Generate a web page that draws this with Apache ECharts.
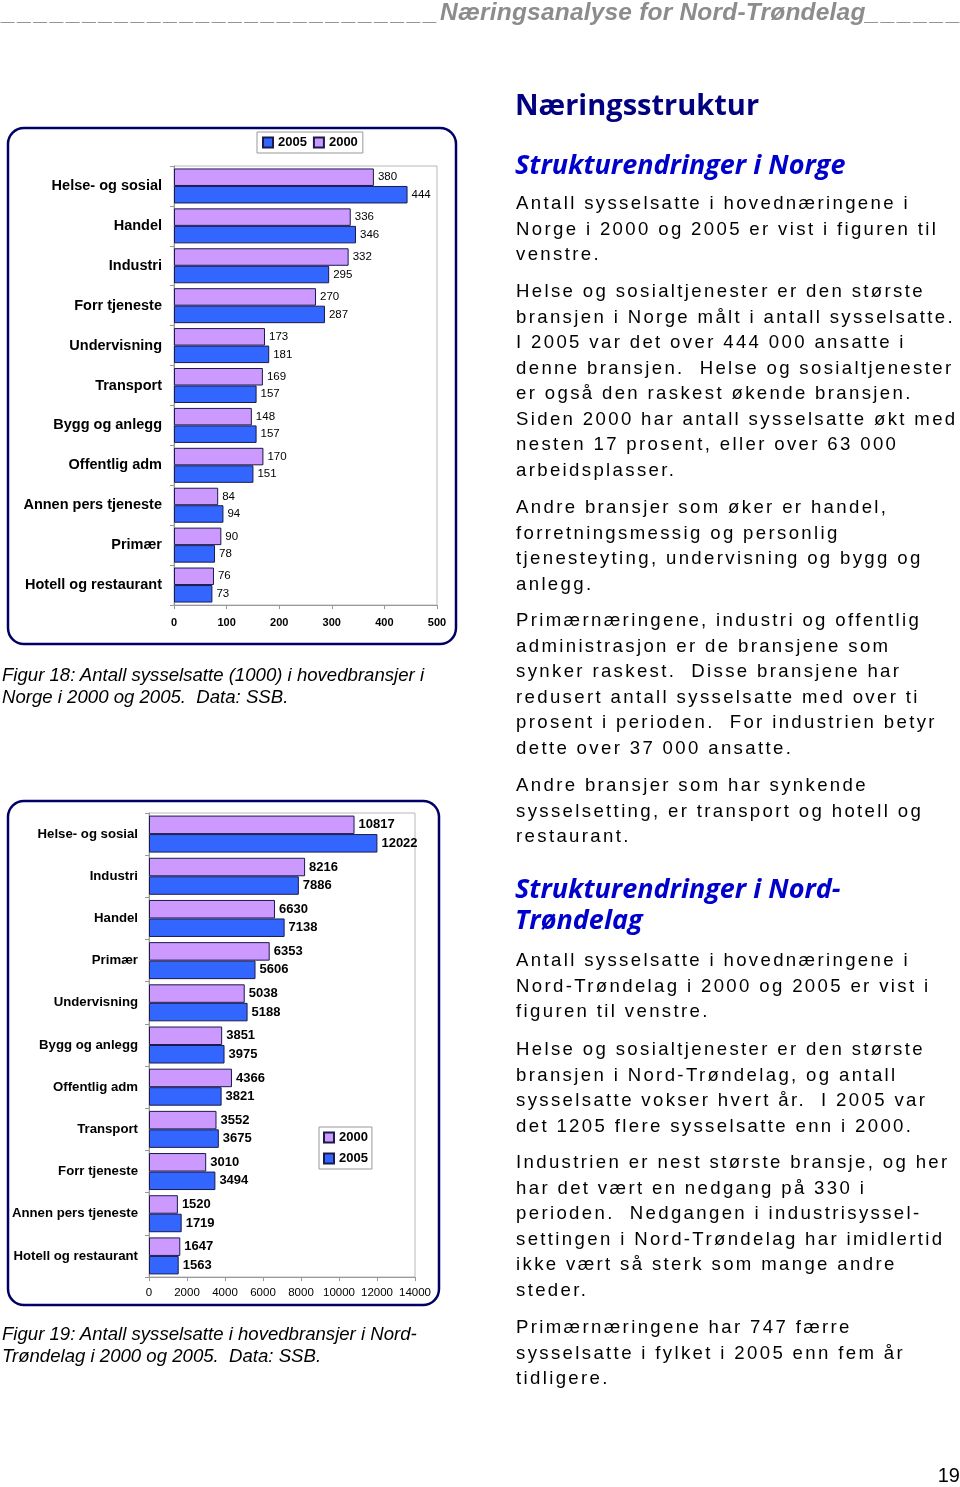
<!DOCTYPE html>
<html>
<head>
<meta charset="utf-8">
<script src="https://cdn.jsdelivr.net/npm/echarts@6/dist/echarts.min.js"></script>
<style>
  html,body{margin:0;padding:0;background:#fff;}
  body{width:960px;height:1487px;position:relative;overflow:hidden;font-family:"Liberation Sans",Arial,sans-serif;}
  #chart{position:absolute;left:0;top:0;width:960px;height:1487px;}
  .t{position:absolute;white-space:pre;z-index:2;}
  .hdr{left:2px;top:-2px;font-size:24.5px;line-height:28px;font-weight:bold;font-style:italic;color:#8c8c8c;}
  .hdr .u{letter-spacing:2.6px;}
  .hdr .m{letter-spacing:0.2px;}
  .h1{left:515px;top:86px;font-family:"Open Sans",sans-serif;font-weight:700;font-size:29px;line-height:36px;color:#000080;}
  .h2{left:515px;font-family:"Open Sans",sans-serif;font-weight:700;font-style:italic;font-size:27px;line-height:31px;color:#0000cc;}
  .p{left:516px;font-size:18.6px;line-height:25.5px;letter-spacing:2.35px;color:#000;}
  .cap{left:2px;font-size:18.6px;line-height:22px;font-style:italic;color:#000;}
  .pg{right:0;top:1463px;font-size:20px;line-height:24px;color:#000;}
</style>
</head>
<body>
<div id="chart"></div>
<div class="t hdr"><span class="u">___________________________</span><span class="m">Næringsanalyse for Nord-Trøndelag</span><span class="u">______</span></div>
<div class="t h1">Næringsstruktur</div>
<div class="t h2" style="top:147.5px">Strukturendringer i Norge</div>
<div class="t p" style="top:190px">Antall sysselsatte i hovednæringene i
Norge i 2000 og 2005 er vist i figuren til
venstre.</div>
<div class="t p" style="top:278px">Helse og sosialtjenester er den største
bransjen i Norge målt i antall sysselsatte.
I 2005 var det over 444 000 ansatte i
denne bransjen.  Helse og sosialtjenester
er også den raskest økende bransjen.
Siden 2000 har antall sysselsatte økt med
nesten 17 prosent, eller over 63 000
arbeidsplasser.</div>
<div class="t p" style="top:494px">Andre bransjer som øker er handel,
forretningsmessig og personlig
tjenesteyting, undervisning og bygg og
anlegg.</div>
<div class="t p" style="top:607px">Primærnæringene, industri og offentlig
administrasjon er de bransjene som
synker raskest.  Disse bransjene har
redusert antall sysselsatte med over ti
prosent i perioden.  For industrien betyr
dette over 37 000 ansatte.</div>
<div class="t p" style="top:772px">Andre bransjer som har synkende
sysselsetting, er transport og hotell og
restaurant.</div>
<div class="t h2" style="top:871.5px">Strukturendringer i Nord-
Trøndelag</div>
<div class="t p" style="top:947px">Antall sysselsatte i hovednæringene i
Nord-Trøndelag i 2000 og 2005 er vist i
figuren til venstre.</div>
<div class="t p" style="top:1036px">Helse og sosialtjenester er den største
bransjen i Nord-Trøndelag, og antall
sysselsatte vokser hvert år.  I 2005 var
det 1205 flere sysselsatte enn i 2000.</div>
<div class="t p" style="top:1149px">Industrien er nest største bransje, og her
har det vært en nedgang på 330 i
perioden.  Nedgangen i industrisyssel-
settingen i Nord-Trøndelag har imidlertid
ikke vært så sterk som mange andre
steder.</div>
<div class="t p" style="top:1314px">Primærnæringene har 747 færre
sysselsatte i fylket i 2005 enn fem år
tidligere.</div>
<div class="t cap" style="top:664px">Figur 18: Antall sysselsatte (1000) i hovedbransjer i
Norge i 2000 og 2005.  Data: SSB.</div>
<div class="t cap" style="top:1323px">Figur 19: Antall sysselsatte i hovedbransjer i Nord-
Trøndelag i 2000 og 2005.  Data: SSB.</div>
<div class="t pg">19</div>

<script>
// ---- Figur 18: Norge (1000 sysselsatte) ----
const categoriesNorge = ["Helse- og sosial","Handel","Industri","Forr tjeneste","Undervisning","Transport","Bygg og anlegg","Offentlig adm","Annen pers tjeneste","Primær","Hotell og restaurant"];
const norge2000 = [380,336,332,270,173,169,148,170,84,90,76];
const norge2005 = [444,346,295,287,181,157,157,151,94,78,73];

// ---- Figur 19: Nord-Trøndelag ----
const categoriesNT = ["Helse- og sosial","Industri","Handel","Primær","Undervisning","Bygg og anlegg","Offentlig adm","Transport","Forr tjeneste","Annen pers tjeneste","Hotell og restaurant"];
const nt2000 = [10817,8216,6630,6353,5038,3851,4366,3552,3010,1520,1647];
const nt2005 = [12022,7886,7138,5606,5188,3975,3821,3675,3494,1719,1563];

const seriesNames = ["2000","2005"];

const PINK = "#CC99FF", BLUE = "#3366FF", EDGE = "#1a1a4d";
const FONT = "Liberation Sans";

const chart = echarts.init(document.getElementById("chart"), null, {renderer:"canvas", width:960, height:1487});

function barSeries(name, data, idx, color, barWidth, labelStyle){
  return {
    type:"bar", name:name, xAxisIndex:idx, yAxisIndex:idx, data:data,
    barWidth:barWidth, barGap:"0%",
    itemStyle:{color:color, borderColor:EDGE, borderWidth:1},
    label:Object.assign({show:true, position:"right", color:"#000", fontFamily:FONT}, labelStyle),
    emphasis:{disabled:true}
  };
}

const option = {
  animation:false,
  textStyle:{fontFamily:FONT},
  graphic:[
    {type:"rect", shape:{x:8, y:128, width:448, height:516, r:16}, style:{fill:"none", stroke:"#000066", lineWidth:2.5}, z:0},
    {type:"rect", shape:{x:8, y:801, width:431, height:504, r:16}, style:{fill:"none", stroke:"#000066", lineWidth:2.5}, z:0}
  ],
  legend:[
    {data:["2005","2000"], left:257, top:132, orient:"horizontal", selectedMode:false, icon:"rect",
     borderColor:"#999", borderWidth:1, padding:[4,5], itemWidth:10, itemHeight:10, itemGap:6,
     textStyle:{fontWeight:"bold", fontSize:13, color:"#000", fontFamily:FONT}},
    {data:["2000","2005"], left:319, top:1127, orient:"vertical", selectedMode:false, icon:"rect",
     borderColor:"#999", borderWidth:1, padding:[4,4], itemWidth:10, itemHeight:10, itemGap:8,
     textStyle:{fontWeight:"bold", fontSize:13, color:"#000", fontFamily:FONT}}
  ],
  grid:[
    {left:174, top:166, width:263, height:439, show:true, borderColor:"#b8b8b8", borderWidth:1},
    {left:149, top:813, width:266, height:464, show:true, borderColor:"#b8b8b8", borderWidth:1}
  ],
  xAxis:[
    {gridIndex:0, type:"value", min:0, max:500, interval:100,
     axisLine:{show:true, lineStyle:{color:"#999"}}, axisTick:{show:true, length:4, lineStyle:{color:"#999"}},
     splitLine:{show:false},
     axisLabel:{fontWeight:"bold", fontSize:11, color:"#000", margin:12, fontFamily:FONT, formatter:(v)=>String(v)}},
    {gridIndex:1, type:"value", min:0, max:14000, interval:2000,
     axisLine:{show:true, lineStyle:{color:"#999"}}, axisTick:{show:true, length:4, lineStyle:{color:"#999"}},
     splitLine:{show:false},
     axisLabel:{fontSize:11.5, color:"#000", margin:10, fontFamily:FONT, formatter:(v)=>String(v)}}
  ],
  yAxis:[
    {gridIndex:0, type:"category", data:categoriesNorge, inverse:true,
     axisLine:{show:true, lineStyle:{color:"#999"}}, axisTick:{show:true, length:4, lineStyle:{color:"#999"}},
     axisLabel:{fontWeight:"bold", fontSize:14.5, color:"#000", margin:12, fontFamily:FONT}},
    {gridIndex:1, type:"category", data:categoriesNT, inverse:true,
     axisLine:{show:true, lineStyle:{color:"#999"}}, axisTick:{show:true, length:4, lineStyle:{color:"#999"}},
     axisLabel:{fontWeight:"bold", fontSize:13.2, color:"#000", margin:11, fontFamily:FONT}}
  ],
  series:[
    barSeries(seriesNames[0], norge2000, 0, PINK, 17.5, {fontSize:11.5, distance:4}),
    barSeries(seriesNames[1], norge2005, 0, BLUE, 17.5, {fontSize:11.5, distance:4}),
    barSeries(seriesNames[0], nt2000, 1, PINK, 18.5, {fontSize:13, fontWeight:"bold", distance:4}),
    barSeries(seriesNames[1], nt2005, 1, BLUE, 18.5, {fontSize:13, fontWeight:"bold", distance:4})
  ]
};
chart.setOption(option);
</script>
</body>
</html>
